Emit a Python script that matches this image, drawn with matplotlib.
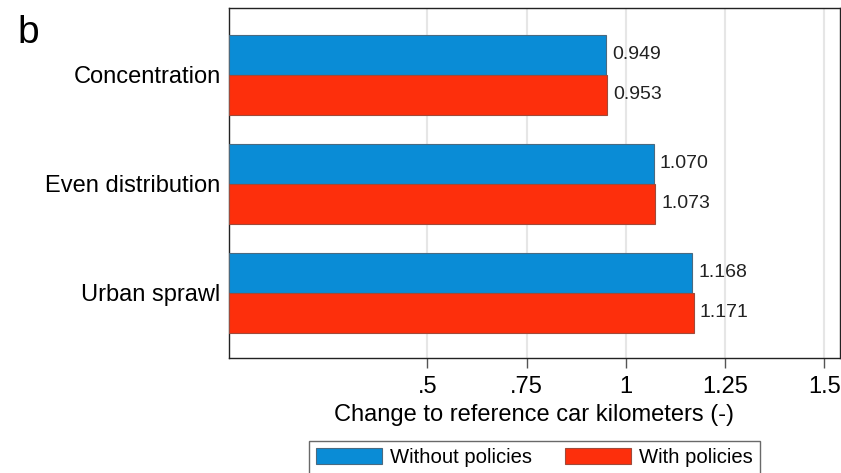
import numpy as np
import matplotlib.pyplot as plt

plt.rcParams['font.family'] = ['Liberation Sans', 'DejaVu Sans']

scenarios = ["Concentration", "Even distribution", "Urban sprawl"]
without_policies = [0.949, 1.070, 1.168]
with_policies = [0.953, 1.073, 1.171]
xticks = [0.5, 0.75, 1.0, 1.25, 1.5]
xtick_labels = [".5", ".75", "1", "1.25", "1.5"]

blue = "#0a8cd6"
red = "#fd2f0c"

fig = plt.figure(figsize=(8.41, 4.73), dpi=100)
ax = fig.add_axes([229 / 841, 1 - 358 / 473, 611 / 841, 350 / 473])

y = np.arange(len(scenarios))
h = 0.367
b1 = ax.barh(y - h / 2, without_policies, height=h, color=blue,
             edgecolor="#4a6a80", linewidth=0.8, label="Without policies", zorder=3)
b2 = ax.barh(y + h / 2, with_policies, height=h, color=red,
             edgecolor="#a04a3a", linewidth=0.8, label="With policies", zorder=3)

# value labels just right of each bar
for bars, vals in ((b1, without_policies), (b2, with_policies)):
    for bar, v in zip(bars, vals):
        ax.text(v + 0.016, bar.get_y() + bar.get_height() / 2, f"{v:.3f}",
                va="center", ha="left", fontsize=14, color="#222222")

ax.set_xlim(0, 1.54)
ax.set_ylim(2.6, -0.615)
ax.set_yticks(y)
ax.set_yticklabels(scenarios, fontsize=17)
ax.tick_params(axis="y", length=0, pad=6)
ax.set_xticks(xticks)
ax.set_xticklabels(xtick_labels, fontsize=17)
ax.tick_params(axis="x", length=7, width=1, color="#555555", pad=6)
ax.grid(axis="x", color="#e6e6e6", linewidth=1.5, zorder=0)
for s in ax.spines.values():
    s.set_color("#222222")
    s.set_linewidth(1)
ax.set_xlabel("Change to reference car kilometers (-)", fontsize=17, labelpad=4)

fig.text(17 / 841, 1 - 43 / 473, "b", fontsize=28)

leg = fig.legend(handles=[b1, b2], loc="upper center", ncol=2,
                 bbox_to_anchor=(534.5 / 841, 1 - 441 / 473), fontsize=14.6,
                 frameon=True, fancybox=False, edgecolor="#444444",
                 handlelength=3.25, handleheight=0.85, handletextpad=0.4,
                 columnspacing=1.6, borderpad=0.35, borderaxespad=0)
leg.get_frame().set_linewidth(1)

fig.savefig("out.png", dpi=100)
